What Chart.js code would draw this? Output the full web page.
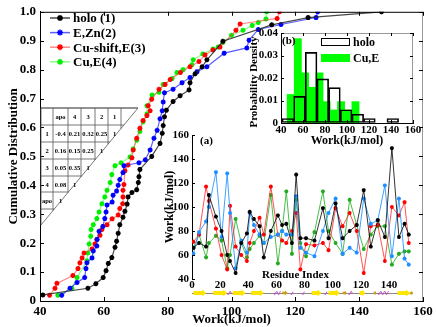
<!DOCTYPE html>
<html>
<head>
<meta charset="UTF-8">
<title>Work distributions</title>
<style>
  body { margin: 0; background: #fff; }
  #wrap { position: relative; width: 436px; height: 327px; overflow: hidden;
          font-family: "Liberation Serif", serif; font-weight: bold; }
  #wrap canvas, #wrap svg { position: absolute; left: 0; top: 0; }
  .lbl { position: absolute; white-space: nowrap; line-height: 1; }
  .rot { transform: translate(-50%, -50%) rotate(-90deg); }
</style>
</head>
<body>
<div id="wrap">
  <canvas id="cdf" width="436" height="327"></canvas>
  <canvas id="hist" width="436" height="327"></canvas>
  <canvas id="resid" width="436" height="327"></canvas>
  <svg id="tbl" width="436" height="327"></svg>
  <div class="lbl" style="left:200px;top:135px;font-size:11px">(a)</div>
  <div class="lbl" style="left:282px;top:35px;font-size:11px">(b)</div>
  <div class="lbl" style="left:262px;top:269px;font-size:11px">Residue Index</div>
  <div class="lbl rot" style="left:253px;top:82px;font-size:11px">Probability Density</div>
</div>

<script src="https://cdn.jsdelivr.net/npm/chart.js"></script>
<script>
// ---- cumulative distributions (main panel) ----
const holoX  = [40.9, 55, 57.5, 59.8, 60.7, 61.4, 62.5, 63.5, 64, 64.5, 65, 66, 66.6, 67.3, 67.6, 68.8, 70.3, 70.8, 71, 71.3, 75, 77.6, 78.3, 78.6, 79, 79.6, 81.7, 83.9, 86.7, 87, 88.6, 90.8, 92.3, 97.3, 112.6, 124, 147];
const holoY  = [0.021, 0.044, 0.06, 0.081, 0.105, 0.13, 0.15, 0.186, 0.207, 0.234, 0.264, 0.29, 0.31, 0.335, 0.36, 0.375, 0.385, 0.41, 0.43, 0.455, 0.5, 0.545, 0.58, 0.607, 0.637, 0.66, 0.69, 0.71, 0.73, 0.755, 0.786, 0.81, 0.834, 0.898, 0.955, 0.98, 1.0];
const eznX   = [46.8, 49.4, 51.6, 54, 54.4, 54.7, 56.3, 56.7, 57.8, 57.9, 58.5, 59.7, 60.3, 60.7, 61, 62.6, 62.9, 64, 64.5, 65, 66, 66.3, 71, 73, 74.5, 75.7, 76.7, 77.6, 78.3, 78.6, 79, 81.7, 84.5, 87, 89.2, 92.3, 97.7, 104.8, 105.5, 108.4, 115.5, 126.5, 127];
const eznY   = [0.02, 0.044, 0.064, 0.081, 0.112, 0.132, 0.149, 0.173, 0.19, 0.213, 0.241, 0.258, 0.285, 0.308, 0.332, 0.342, 0.366, 0.38, 0.4, 0.42, 0.444, 0.468, 0.478, 0.488, 0.522, 0.563, 0.59, 0.63, 0.658, 0.688, 0.72, 0.732, 0.755, 0.773, 0.793, 0.81, 0.857, 0.875, 0.902, 0.939, 0.956, 0.98, 1.0];
const cushX  = [43, 44.7, 45.3, 50.3, 51.9, 52.5, 53.2, 53.8, 56.3, 57.2, 57.8, 58.8, 59.4, 61, 62.6, 64.5, 65, 65.9, 66, 66, 66.3, 66.6, 67.6, 68.8, 69.2, 70.3, 71.3, 72.3, 73.5, 74.5, 73.9, 75, 77.3, 79.2, 80.8, 84, 87, 89.8, 91.7, 94.2, 96.4, 101.4, 102.7, 114.3, 115];
const cushY  = [0.02, 0.044, 0.061, 0.088, 0.112, 0.132, 0.149, 0.166, 0.18, 0.197, 0.213, 0.227, 0.247, 0.264, 0.284, 0.297, 0.32, 0.336, 0.36, 0.383, 0.403, 0.45, 0.47, 0.495, 0.522, 0.563, 0.597, 0.624, 0.641, 0.658, 0.675, 0.698, 0.732, 0.749, 0.766, 0.79, 0.81, 0.828, 0.851, 0.868, 0.878, 0.936, 0.958, 0.977, 1.0];
const cueX   = [45.6, 50, 51.6, 54.7, 55, 55.4, 55.9, 56, 56.7, 57.8, 58.5, 59.4, 60.3, 61, 62, 62.5, 63.5, 65.4, 68.2, 69.2, 70.3, 71.3, 72.3, 73.5, 73.5, 75.1, 77.3, 78.6, 81.4, 82.9, 84.8, 87.6, 88, 91, 94.2, 95.8, 97.3, 100, 103.6, 106.5, 108.4, 110.8, 111];
const cueY   = [0.02, 0.044, 0.081, 0.139, 0.166, 0.197, 0.224, 0.247, 0.264, 0.285, 0.308, 0.336, 0.36, 0.383, 0.41, 0.437, 0.468, 0.478, 0.498, 0.526, 0.556, 0.586, 0.62, 0.647, 0.675, 0.712, 0.722, 0.749, 0.769, 0.79, 0.8, 0.817, 0.834, 0.854, 0.871, 0.878, 0.894, 0.919, 0.936, 0.953, 0.963, 0.975, 1.0];

// ---- histogram inset (b) ----
const holoBins   = [46.2, 56.8, 67.4, 78.0, 88.6, 99.2, 109.8, 120.4, 131.0, 141.6];
const holoDens   = [0.002, 0.0118, 0.0314, 0.0196, 0.0157, 0.0059, 0.0039, 0.002, 0, 0.002];
const cueBins    = [48.8, 55.3, 61.9, 68.4, 75.0, 81.5, 88.1, 94.6, 101.2, 107.7];
const cueDens    = [0.0127, 0.0375, 0.0223, 0.0159, 0.0223, 0.0095, 0.0058, 0.0095, 0.0058, 0.0095];

// ---- per-residue work inset (a) ----
const residues = [1, 5, 10, 12, 17, 21, 25, 27, 31, 35, 39, 41, 44, 48, 51, 56, 61, 64, 67, 71, 74, 77, 81, 87, 93, 97, 102, 107, 112, 117, 122, 127, 132, 137, 142, 147, 151, 154];
const wHolo  = [66, 70, 67, 110, 92, 80, 60, 55, 45, 70, 78, 96, 90, 84, 58, 80, 93, 85, 86, 70, 127, 74, 74, 72, 99, 74, 103, 74, 80, 85, 114, 67, 89, 75, 149, 75, 86, 77];
const wEZn   = [61, 79, 88, 100, 129, 75, 128, 95, 49, 72, 62, 95, 85, 77, 70, 75, 77, 80, 77, 77, 109, 66, 62, 59, 80, 95, 107, 61, 66, 62, 107, 86, 89, 118, 59, 107, 57, 52];
const wCuSh  = [71, 77, 117, 105, 82, 60, 48, 101, 67, 60, 55, 70, 80, 91, 77, 117, 77, 72, 70, 80, 95, 48, 69, 68, 70, 64, 99, 84, 95, 80, 45, 84, 85, 55, 100, 93, 104, 70];
const wCuE   = [66, 77, 58, 70, 76, 72, 49, 60, 90, 70, 58, 65, 70, 76, 70, 110, 53, 80, 113, 61, 106, 70, 59, 79, 113, 80, 70, 61, 106, 85, 65, 77, 84, 84, 52, 61, 63, 63];

// secondary structure along the residue axis
const strands = [[1, 10], [15, 25], [29, 38], [42, 51], [85, 92], [97, 105], [119, 123], [146, 155]];
const bends   = [[64, 68], [107, 110], [129, 131], [155, 157]];
const helices = [[25, 28], [58, 63], [70, 72], [78, 80], [94, 96], [111, 114], [132, 140]];

// ---- correlation table ----
const tblHead = ["", "apo", "4", "3", "2", "1"];
const tblRows = [
  ["1", "-0.4", "0.21", "0.32", "0.25", "1"],
  ["2", "0.16", "0.15", "0.25", "1"],
  ["3", "0.05", "0.35", "1"],
  ["4", "0.08", "1"],
  ["apo", "1"]
];

Chart.defaults.font.family = '"Liberation Serif", serif';
Chart.defaults.font.weight = 'bold';
Chart.defaults.color = '#000';
Chart.defaults.animation = false;

const pts = (xs, ys) => xs.map((x, i) => ({ x: x, y: ys[i] }));

// inward tick marks + optional full frame
const frame = {
  id: 'frame',
  afterDraw(chart, args, o) {
    const { ctx, chartArea: a } = chart;
    const xs = chart.scales.x, ys = chart.scales.y;
    ctx.save();
    ctx.lineWidth = 1;
    if (o.box) {
      ctx.strokeStyle = o.topColor || '#000';
      ctx.beginPath(); ctx.moveTo(a.left, a.top + 0.5); ctx.lineTo(a.right, a.top + 0.5); ctx.stroke();
      ctx.strokeStyle = o.rightColor || '#888';
      ctx.beginPath(); ctx.moveTo(a.right - 0.5, a.top); ctx.lineTo(a.right - 0.5, a.bottom); ctx.stroke();
    }
    ctx.strokeStyle = '#000';
    ctx.beginPath();
    const len = o.len || 4;
    if (o.xTicks) xs.ticks.forEach(t => {
      const p = Math.round(xs.getPixelForValue(t.value)) + 0.5;
      ctx.moveTo(p, a.bottom); ctx.lineTo(p, a.bottom - len);
      if (o.box) { ctx.moveTo(p, a.top); ctx.lineTo(p, a.top + len); }
    });
    if (o.yTicks) ys.ticks.forEach(t => {
      const p = Math.round(ys.getPixelForValue(t.value)) + 0.5;
      ctx.moveTo(a.left, p); ctx.lineTo(a.left + len, p);
      if (o.box) { ctx.moveTo(a.right, p); ctx.lineTo(a.right - len, p); }
    });
    ctx.stroke();
    ctx.restore();
  }
};

// legend drawn inside the plot area
const innerLegend = {
  id: 'innerLegend',
  afterDraw(chart, args, o) {
    const ctx = chart.ctx;
    ctx.save();
    ctx.font = 'bold ' + o.size + 'px "Liberation Serif"';
    ctx.textBaseline = 'middle';
    chart.data.datasets.forEach((ds, i) => {
      const y = o.y + i * o.dy;
      if (o.kind === 'line') {
        ctx.strokeStyle = ds.borderColor; ctx.lineWidth = 1.5;
        ctx.beginPath(); ctx.moveTo(o.x, y); ctx.lineTo(o.x + o.w, y); ctx.stroke();
        ctx.strokeStyle = ds.pointBorderColor; ctx.fillStyle = ds.pointBackgroundColor;
        Chart.helpers.drawPoint(ctx, { pointStyle: 'star', radius: 3, borderWidth: 1.5 }, o.x + o.w / 2, y);
      } else {
        ctx.fillStyle = ds.legendFill; ctx.strokeStyle = ds.legendStroke; ctx.lineWidth = 1;
        ctx.fillRect(o.x, y - o.h / 2, o.w, o.h);
        ctx.strokeRect(o.x + 0.5, y - o.h / 2 + 0.5, o.w - 1, o.h - 1);
      }
      ctx.fillStyle = '#000';
      ctx.fillText(ds.label, o.x + o.w + o.gap, y + 1);
    });
    ctx.restore();
  }
};

// secondary structure strip under the residue axis
const ssBar = {
  id: 'ssBar',
  afterDraw(chart, args, o) {
    const { ctx, chartArea: a } = chart;
    const xs = chart.scales.x;
    const y = a.bottom + o.offset;
    ctx.save();
    ctx.strokeStyle = '#888'; ctx.lineWidth = 1;
    ctx.beginPath(); ctx.moveTo(xs.getPixelForValue(0), y + 0.5); ctx.lineTo(a.right, y + 0.5); ctx.stroke();
    const arrow = (r, color, h, hh) => {
      const x0 = xs.getPixelForValue(r[0]), x1 = xs.getPixelForValue(r[1]);
      const head = Math.min(4, (x1 - x0) / 2);
      ctx.fillStyle = color;
      ctx.beginPath();
      ctx.moveTo(x0, y - h); ctx.lineTo(x1 - head, y - h); ctx.lineTo(x1 - head, y - hh);
      ctx.lineTo(x1, y); ctx.lineTo(x1 - head, y + hh); ctx.lineTo(x1 - head, y + h);
      ctx.lineTo(x0, y + h); ctx.closePath(); ctx.fill();
    };
    strands.forEach(r => arrow(r, '#ffe600', 2, 3.5));
    bends.forEach(r => arrow(r, '#c8a020', 1.2, 2.5));
    ctx.strokeStyle = '#c050c0';
    helices.forEach(r => {
      const x0 = xs.getPixelForValue(r[0]), x1 = xs.getPixelForValue(r[1]);
      ctx.beginPath();
      for (let x = x0; x <= x1; x += 0.5) {
        const yy = y + 1.8 * Math.sin((x - x0) * 1.6);
        if (x === x0) ctx.moveTo(x, yy); else ctx.lineTo(x, yy);
      }
      ctx.stroke();
    });
    ctx.restore();
  }
};

const axisFont = (s) => ({ size: s, weight: 'bold' });
const bareGrid = { display: true, drawOnChartArea: false, drawTicks: false };

// ---------------- main chart ----------------
const lineSet = (label, xs, ys, c, lc) => ({
  label: label, data: pts(xs, ys),
  borderColor: lc, borderWidth: 1.2,
  pointStyle: 'star', pointRadius: 2.5, pointBorderWidth: 1.5,
  pointBorderColor: c, pointBackgroundColor: c, tension: 0
});

new Chart(document.getElementById('cdf'), {
  type: 'line',
  data: {
    datasets: [
      lineSet('holo (1)', holoX, holoY, '#000', 'rgba(40,40,40,0.85)'),
      lineSet('E,Zn(2)', eznX, eznY, '#0000ff', 'rgba(40,40,255,0.75)'),
      lineSet('Cu-shift,E(3)', cushX, cushY, '#ff0000', 'rgba(255,60,60,0.6)'),
      lineSet('Cu,E(4)', cueX, cueY, '#00ee00', 'rgba(60,255,60,0.6)')
    ]
  },
  options: {
    responsive: false,
    layout: { padding: { left: 0, top: 6, right: 13, bottom: 0 } },
    plugins: {
      legend: { display: false }, tooltip: { enabled: false },
      frame: { box: true, xTicks: true, yTicks: true, topColor: '#000', rightColor: '#999' },
      innerLegend: { kind: 'line', x: 50, y: 18, dy: 14.6, w: 20, gap: 3, size: 13 }
    },
    scales: {
      x: {
        type: 'linear', min: 40, max: 160,
        ticks: { stepSize: 20, padding: 3, font: axisFont(13) },
        grid: bareGrid, border: { color: '#000', width: 1 },
        title: { display: true, text: 'Work(kJ/mol)', padding: { top: 0, bottom: 0 }, font: axisFont(13) },
        afterFit(s) { s.height = 26; }
      },
      y: {
        min: 0, max: 1,
        ticks: { stepSize: 0.1, padding: 4, font: axisFont(13) },
        grid: bareGrid, border: { color: '#000', width: 1 },
        title: { display: true, text: 'Cumulative Distribution', padding: { top: 6, bottom: 0 }, font: axisFont(13) },
        afterFit(s) { s.width = 40; }
      }
    }
  },
  plugins: [frame, innerLegend]
});

// ---------------- inset (b): histogram ----------------
new Chart(document.getElementById('hist'), {
  type: 'bar',
  data: {
    datasets: [
      {
        label: 'holo', data: pts(holoBins, holoDens), xAxisID: 'x', order: 0,
        backgroundColor: 'rgba(0,0,0,0)', borderColor: '#000', borderWidth: 1, borderSkipped: false,
        legendFill: '#fff', legendStroke: '#000',
        barPercentage: 1, categoryPercentage: 1, grouped: false
      },
      {
        label: 'Cu,E', data: pts(cueBins, cueDens), xAxisID: 'x2', order: 1,
        backgroundColor: '#00ff00', borderWidth: 0,
        legendFill: '#00ff00', legendStroke: '#00ff00',
        barPercentage: 1, categoryPercentage: 1, grouped: false
      }
    ]
  },
  options: {
    responsive: false,
    layout: { padding: { left: 241, top: 33, right: 23, bottom: 179 } },
    plugins: {
      legend: { display: false }, tooltip: { enabled: false },
      frame: { box: true, xTicks: true, yTicks: true, topColor: '#999', rightColor: '#999', len: 3 },
      innerLegend: { kind: 'box', x: 321, y: 42, dy: 16, w: 29, h: 8, gap: 3, size: 12 }
    },
    scales: {
      x: {
        type: 'linear', min: 40, max: 160, offset: false,
        ticks: { stepSize: 20, padding: 1, maxRotation: 0, minRotation: 0, autoSkip: false, font: axisFont(11) },
        grid: { display: true, drawOnChartArea: false, drawTicks: false, offset: false },
        border: { color: '#000', width: 1 },
        title: { display: true, text: 'Work(kJ/mol)', padding: { top: 0, bottom: 0 }, font: axisFont(12) },
        afterFit(s) { s.height = 25; }
      },
      x2: {
        type: 'linear', min: 40, max: 160, offset: false, display: false,
        grid: { offset: false }
      },
      y: {
        min: 0, max: 0.04,
        ticks: { stepSize: 0.01, padding: 3, font: axisFont(11) },
        grid: bareGrid, border: { color: '#000', width: 1 },
        afterFit(s) { s.width = 40; }
      }
    }
  },
  plugins: [
    { id: 'bgWhite', beforeDraw(c) { const a = c.chartArea; c.ctx.save(); c.ctx.fillStyle = '#fff';
        c.ctx.fillRect(a.left, a.top, a.right - a.left, a.bottom - a.top); c.ctx.restore(); } },
    frame, innerLegend
  ]
});

// ---------------- inset (a): work per residue ----------------
const resSet = (label, vals, c, lc) => ({
  label: label, data: pts(residues, vals),
  borderColor: lc, borderWidth: 1,
  pointStyle: 'star', pointRadius: 2, pointBorderWidth: 1.2,
  pointBorderColor: c, pointBackgroundColor: c, tension: 0
});

new Chart(document.getElementById('resid'), {
  type: 'line',
  data: {
    datasets: [
      resSet('holo', wHolo, '#000', 'rgba(0,0,0,0.8)'),
      resSet('E,Zn', wEZn, '#1e90ff', 'rgba(30,144,255,0.85)'),
      resSet('Cu-shift,E', wCuSh, '#ff0000', 'rgba(255,40,40,0.8)'),
      resSet('Cu,E', wCuE, '#22aa22', 'rgba(40,180,40,0.85)')
    ]
  },
  options: {
    responsive: false,
    layout: { padding: { left: 152, top: 135, right: 23, bottom: 34 } },
    plugins: {
      legend: { display: false }, tooltip: { enabled: false },
      frame: { xTicks: false, yTicks: true, len: 3 },
      ssBar: { offset: 14 }
    },
    scales: {
      x: {
        type: 'linear', min: 0, max: 157,
        ticks: { stepSize: 20, padding: 0, includeBounds: false, maxRotation: 0, autoSkip: false, font: axisFont(11) },
        grid: { display: false, drawTicks: false }, border: { display: false },
        afterFit(s) { s.height = 14; }
      },
      y: {
        min: 40, max: 160,
        ticks: { stepSize: 20, padding: 3, font: axisFont(11) },
        grid: bareGrid, border: { color: '#000', width: 1 },
        title: { display: true, text: 'Work(kJ/mol)', padding: { top: 11, bottom: 0 }, font: axisFont(12) },
        afterFit(s) { s.width = 40; }
      }
    }
  },
  plugins: [frame, ssBar]
});

// ---------------- correlation table ----------------
(function () {
  const svg = document.getElementById('tbl');
  const NS = 'http://www.w3.org/2000/svg';
  const rowsY = [108, 125, 142, 159, 176, 192, 209];
  const colsX = [41, 53, 68, 81, 95, 108, 121];
  const top = 108, left = 41, tipX = 138, baseY = 225;
  const diagX = y => tipX - (y - top) * (tipX - left) / (baseY - top);
  const diagY = x => top + (tipX - x) * (baseY - top) / (tipX - left);
  const line = (x1, y1, x2, y2) => {
    const l = document.createElementNS(NS, 'line');
    l.setAttribute('x1', x1); l.setAttribute('y1', y1); l.setAttribute('x2', x2); l.setAttribute('y2', y2);
    l.setAttribute('stroke', '#555'); l.setAttribute('stroke-width', '0.8');
    svg.appendChild(l);
  };
  rowsY.forEach(y => line(left, y, diagX(y), y));
  colsX.forEach(x => line(x, top, x, diagY(x)));
  line(left, top, tipX, top);
  line(tipX, top, left, baseY);
  const text = (s, x, y) => {
    const t = document.createElementNS(NS, 'text');
    t.setAttribute('x', x); t.setAttribute('y', y);
    t.setAttribute('text-anchor', 'middle'); t.setAttribute('dominant-baseline', 'central');
    t.setAttribute('font-family', 'Liberation Serif'); t.setAttribute('font-weight', 'bold');
    t.setAttribute('font-size', '6.5');
    t.textContent = s;
    svg.appendChild(t);
  };
  const cx = i => (colsX[i] + colsX[i + 1]) / 2;
  tblHead.forEach((s, i) => text(s, cx(i), (rowsY[0] + rowsY[1]) / 2));
  tblRows.forEach((row, r) => row.forEach((s, i) => text(s, cx(i), (rowsY[r + 1] + rowsY[r + 2]) / 2)));
})();
</script>
</body>
</html>
